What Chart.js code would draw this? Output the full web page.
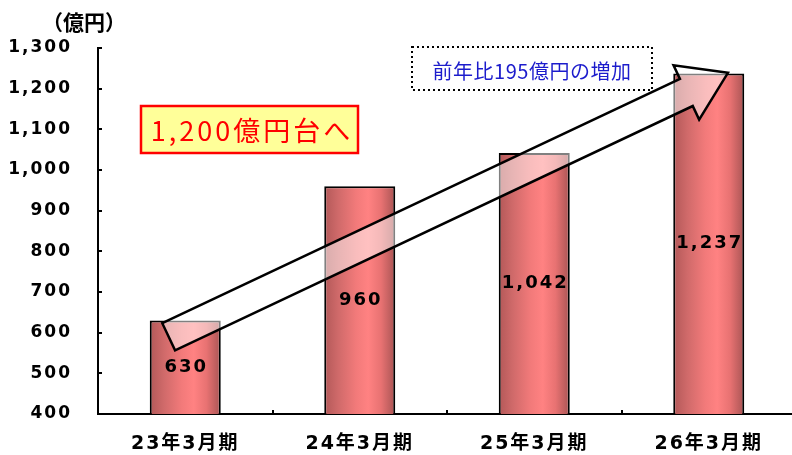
<!DOCTYPE html>
<html lang="ja">
<head>
<meta charset="UTF-8">
<title>売上高の推移</title>
<script src="https://cdn.jsdelivr.net/npm/chart.js"></script>
<style>
  html, body { margin: 0; padding: 0; background: #fff; overflow: hidden; }
  canvas { display: block; }
</style>
</head>
<body>
<canvas id="salesChart" width="800" height="455"></canvas>
<script>
  // data
  const periods = ['23年3月期', '24年3月期', '25年3月期', '26年3月期'];
  const sales = [630, 960, 1042, 1237];
  const yMin = 400, yMax = 1300, yStep = 100;
  const unitLabel = '（億円）';
  const targetNote = '1,200億円台へ';
  const growthNote = '前年比195億円の増加';
  // arrow ends in data space: [category index, value]
  const arrowFrom = [-0.095, 590];
  const arrowTo = [3.11, 1239];

  const BOLD = '"DejaVu Sans", "Noto Sans CJK JP", sans-serif';
  const CJK = '"Noto Sans CJK JP", sans-serif';
  const BAR_PCT = 0.407;

  function barGradient(context) {
    const chart = context.chart;
    const xs = chart.scales.x;
    if (!xs || !chart.chartArea || context.dataIndex === undefined) return '#f07878';
    const cx = xs.getPixelForValue(context.dataIndex);
    const half = xs.width / periods.length * BAR_PCT / 2;
    const g = chart.ctx.createLinearGradient(cx - half, 0, cx + half, 0);
    g.addColorStop(0, '#b25858');
    g.addColorStop(0.2, '#d06a6a');
    g.addColorStop(0.45, '#f27a7a');
    g.addColorStop(0.62, '#ff8282');
    g.addColorStop(0.8, '#e87272');
    g.addColorStop(1, '#a85454');
    return g;
  }

  const spacingPlugin = {
    id: 'spacing',
    beforeDraw(chart) { chart.ctx.letterSpacing = '2px'; }
  };

  const axisTicksPlugin = {
    id: 'axisTicks',
    afterDraw(chart) {
      const { ctx, chartArea, scales: { x, y } } = chart;
      ctx.save();
      ctx.strokeStyle = '#000';
      ctx.lineWidth = 2;
      ctx.beginPath();
      for (let v = yMin + yStep; v <= yMax; v += yStep) {
        const py = Math.round(y.getPixelForValue(v));
        ctx.moveTo(chartArea.left, py);
        ctx.lineTo(chartArea.left + 4, py);
      }
      for (let i = 1; i < periods.length; i++) {
        const px = Math.round(x.getPixelForValue(i - 0.5));
        ctx.moveTo(px, chartArea.bottom);
        ctx.lineTo(px, chartArea.bottom - 4);
      }
      ctx.stroke();
      ctx.restore();
    }
  };

  const arrowPlugin = {
    id: 'growthArrow',
    afterDatasetsDraw(chart) {
      const { ctx, chartArea, scales: { x, y } } = chart;
      const x0 = x.getPixelForValue(arrowFrom[0]), y0 = y.getPixelForValue(arrowFrom[1]);
      const x1 = x.getPixelForValue(arrowTo[0]), y1 = y.getPixelForValue(arrowTo[1]);
      const len = Math.hypot(x1 - x0, y1 - y0);
      const shaft = 15, head = 30, headLen = 46;
      ctx.save();
      ctx.translate(x0, y0);
      ctx.rotate(Math.atan2(y1 - y0, x1 - x0));
      ctx.beginPath();
      ctx.moveTo(0, -shaft);
      ctx.lineTo(len - headLen, -shaft);
      ctx.lineTo(len - headLen, -head);
      ctx.lineTo(len, 0);
      ctx.lineTo(len - headLen, head);
      ctx.lineTo(len - headLen, shaft);
      ctx.lineTo(0, shaft);
      ctx.closePath();
      ctx.fillStyle = 'rgba(255,255,255,0.5)';
      ctx.fill();
      ctx.lineWidth = 2.5;
      ctx.lineJoin = 'miter';
      ctx.strokeStyle = '#000';
      ctx.stroke();
      ctx.restore();

      // value labels in the middle of the visible bar
      const meta = chart.getDatasetMeta(0);
      ctx.save();
      ctx.letterSpacing = '2px';
      ctx.font = 'bold 18px ' + BOLD;
      ctx.fillStyle = '#000';
      ctx.textAlign = 'center';
      ctx.textBaseline = 'middle';
      meta.data.forEach((bar, i) => {
        const bottom = Math.min(bar.base, chartArea.bottom);
        ctx.fillText(sales[i].toLocaleString('en-US'), bar.x + 1, (bar.y + bottom) / 2);
      });
      ctx.restore();
    }
  };

  const notesPlugin = {
    id: 'notes',
    afterDraw(chart) {
      const ctx = chart.ctx;
      ctx.save();
      ctx.textAlign = 'center';
      ctx.textBaseline = 'middle';

      // unit label
      ctx.letterSpacing = '0px';
      ctx.font = 'bold 21px ' + CJK;
      ctx.fillStyle = '#000';
      ctx.fillText(unitLabel, 84, 22);

      // target box
      ctx.fillStyle = '#ffff99';
      ctx.fillRect(141, 106, 217, 47);
      ctx.strokeStyle = '#ff0000';
      ctx.lineWidth = 2.5;
      ctx.strokeRect(141, 106, 217, 47);
      ctx.letterSpacing = '3px';
      ctx.font = '27px ' + CJK;
      ctx.fillStyle = '#ff0000';
      ctx.fillText(targetNote, 252, 131);

      // growth note box
      ctx.setLineDash([2, 3]);
      ctx.strokeStyle = '#000';
      ctx.lineWidth = 2;
      ctx.strokeRect(412, 47, 240, 43);
      ctx.setLineDash([]);
      ctx.letterSpacing = '0.5px';
      ctx.font = '20px ' + CJK;
      ctx.fillStyle = '#1c1ccc';
      ctx.fillText(growthNote, 532, 71);
      ctx.restore();
    }
  };

  new Chart(document.getElementById('salesChart'), {
    type: 'bar',
    data: {
      labels: periods,
      datasets: [{
        data: sales,
        backgroundColor: barGradient,
        borderColor: '#000',
        borderWidth: 2,
        barPercentage: BAR_PCT,
        categoryPercentage: 1
      }]
    },
    options: {
      responsive: false,
      animation: false,
      layout: { padding: { top: 48, left: 0, right: 4, bottom: 0 } },
      plugins: { legend: { display: false }, tooltip: { enabled: false } },
      scales: {
        x: {
          grid: { display: false, drawTicks: false },
          border: { display: true, color: '#000', width: 2 },
          ticks: { color: '#000', padding: 19, font: { family: BOLD, size: 19, weight: 'bold' } },
          afterFit: s => { s.height = 41; }
        },
        y: {
          min: yMin, max: yMax,
          grid: { display: false, drawTicks: false },
          border: { display: true, color: '#000', width: 2 },
          ticks: {
            stepSize: yStep, color: '#000', padding: 26,
            font: { family: BOLD, size: 17, weight: 'bold' },
            callback: v => v.toLocaleString('en-US')
          },
          afterFit: s => { s.width = 98; }
        }
      }
    },
    plugins: [spacingPlugin, axisTicksPlugin, arrowPlugin, notesPlugin]
  });
</script>
</body>
</html>
